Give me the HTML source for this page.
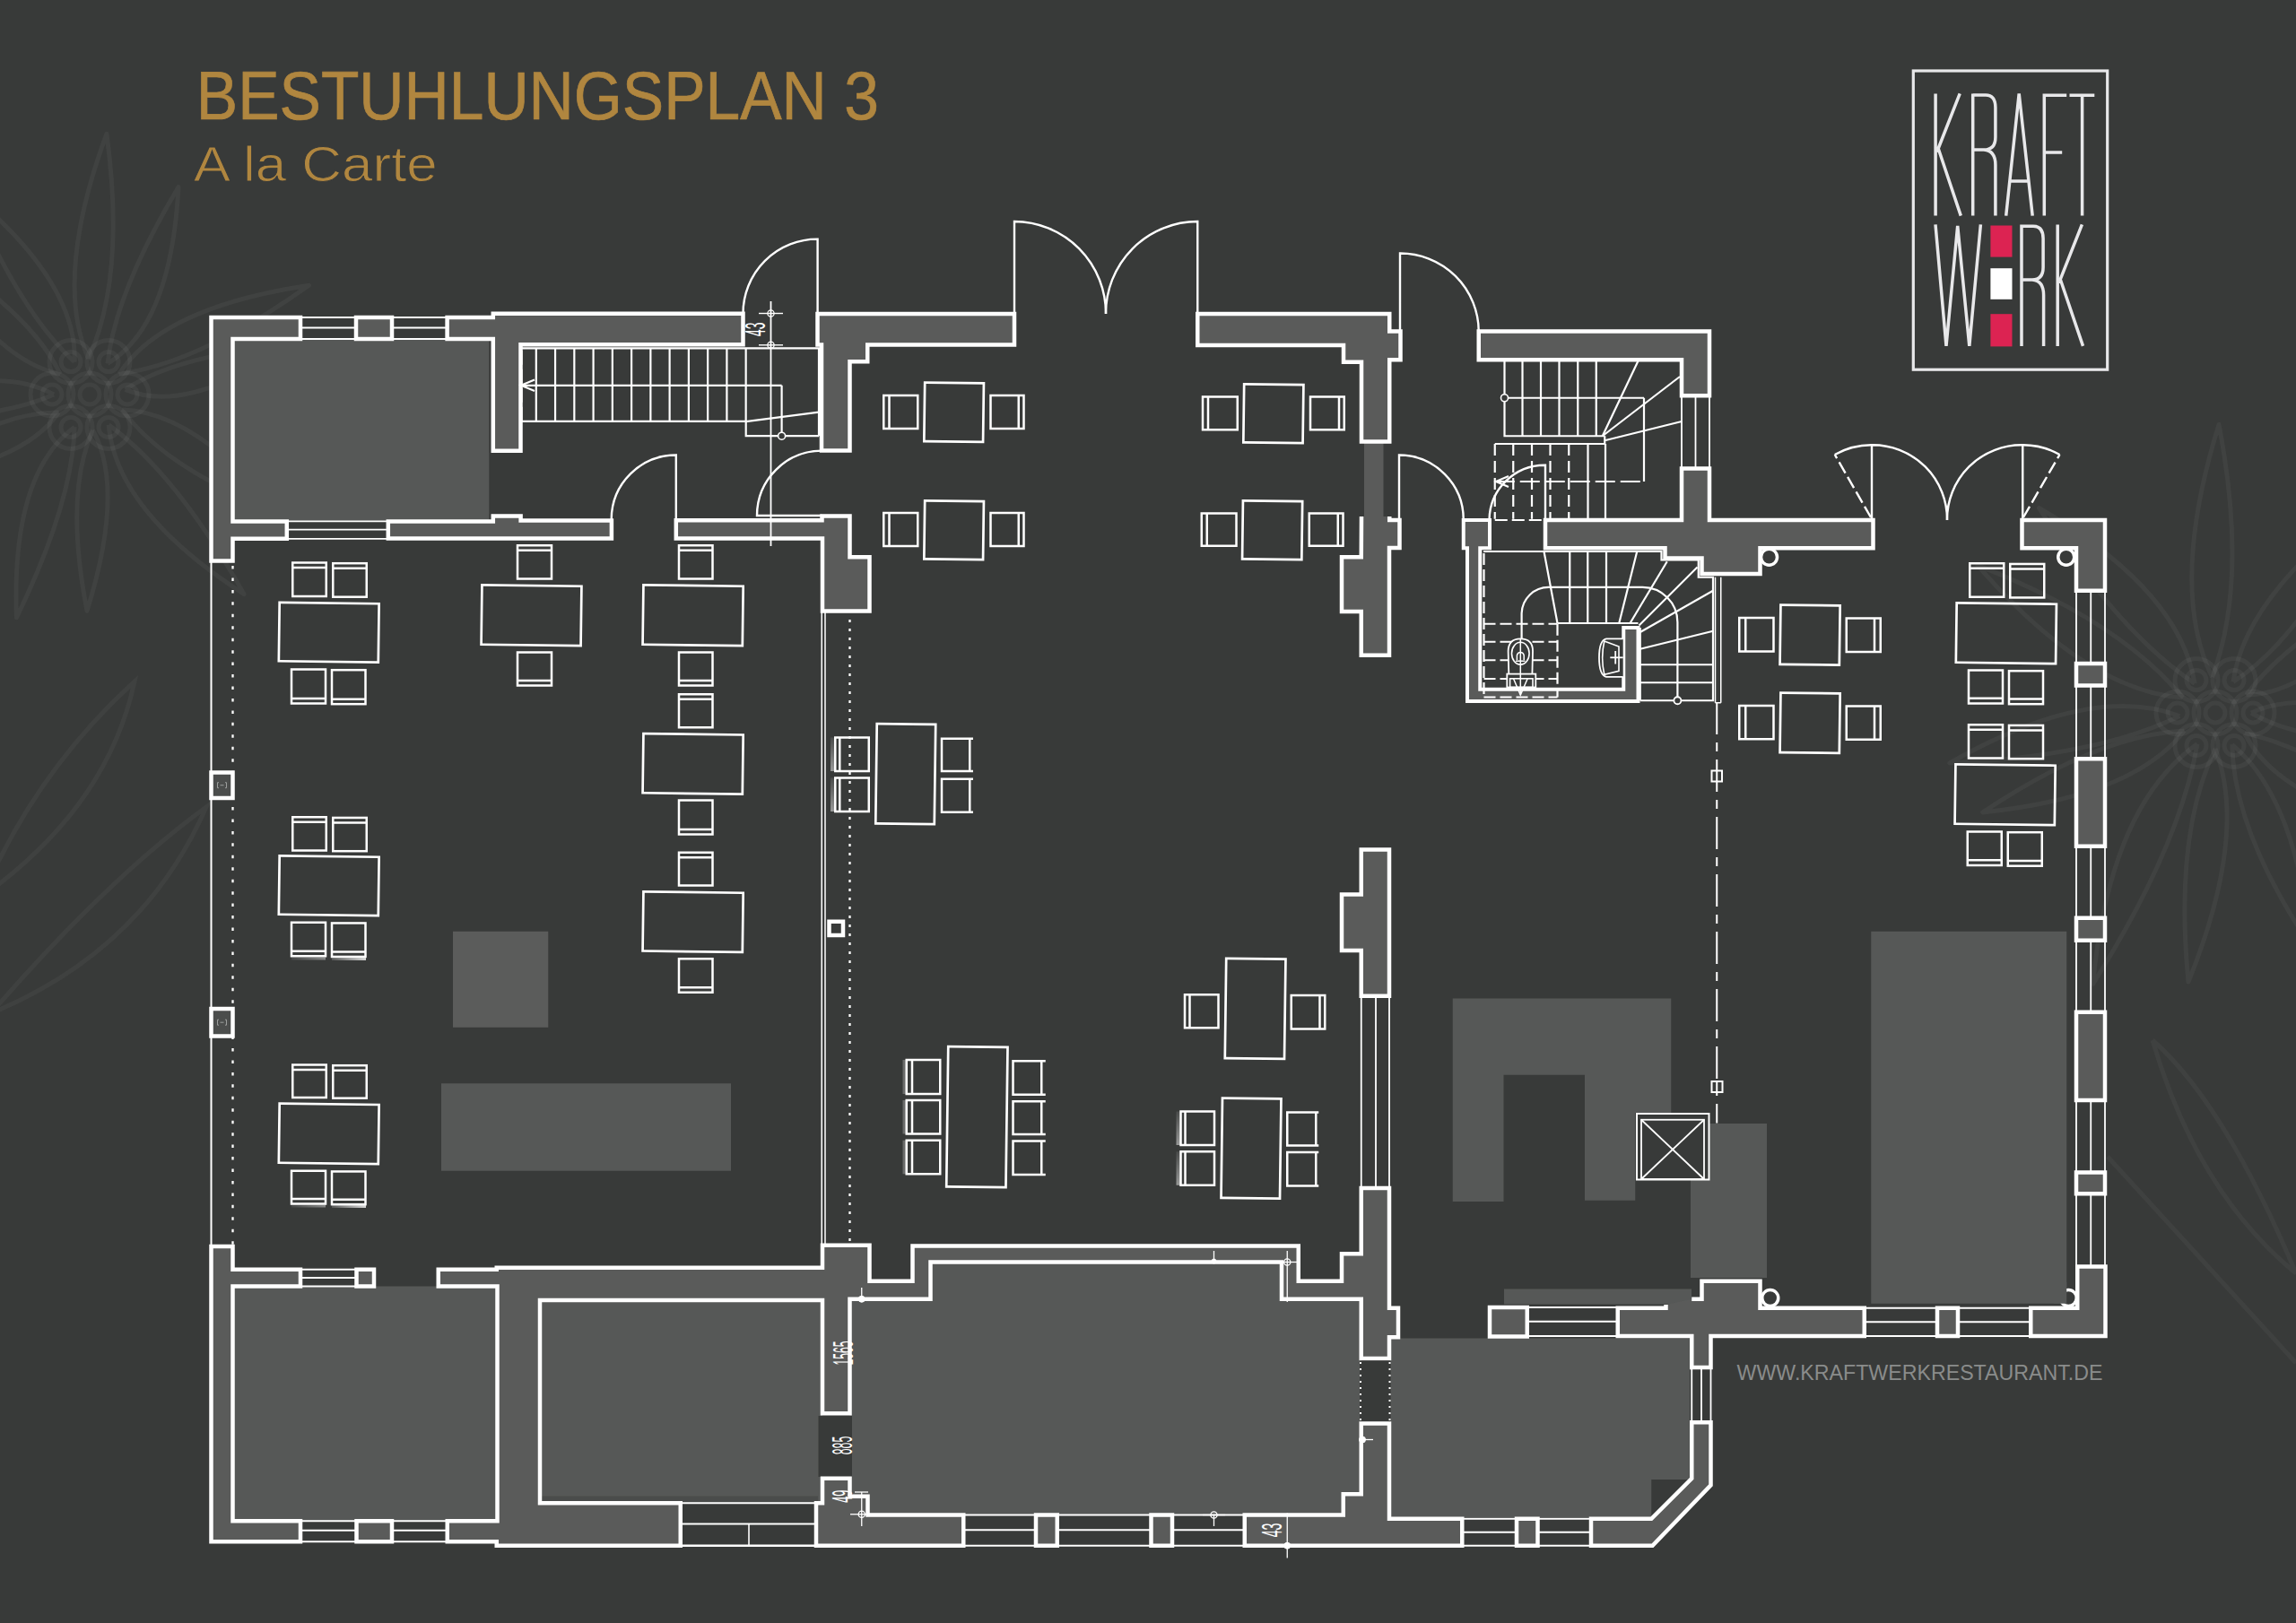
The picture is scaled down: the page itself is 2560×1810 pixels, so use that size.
<!DOCTYPE html>
<html><head><meta charset="utf-8"><title>Bestuhlungsplan 3</title>
<style>html,body{margin:0;padding:0;background:#383a39;}body{width:2560px;height:1810px;overflow:hidden;font-family:"Liberation Sans",sans-serif;}svg{display:block}text{font-family:"Liberation Sans",sans-serif;}</style>
</head><body>
<svg width="2560" height="1810" viewBox="0 0 2560 1810">
<rect x="0" y="0" width="2560" height="1810" fill="#383a39"/>
<g fill="none" stroke="#ffffff" stroke-opacity="0.045" stroke-width="5" stroke-linejoin="round"><path d="M98.6,400.0 Q140.4,308.0 118.9,149.2 Q59.5,310.8 98.6,400.0 M120.0,405.4 Q190.9,362.6 199.0,208.5 Q128.5,326.6 120.0,405.4 M132.8,417.1 Q223.6,404.7 344.4,318.3 Q180.3,342.8 132.8,417.1 M139.6,434.4 Q207.8,463.2 324.6,385.2 Q198.3,395.5 139.6,434.4 M136.3,456.9 Q185.1,523.8 313.9,572.8 Q215.5,458.5 136.3,456.9 M121.2,473.9 Q129.5,570.2 272.1,662.6 Q196.6,528.2 121.2,473.9 M103.5,479.8 Q71.6,550.9 97.0,681.2 Q139.7,544.9 103.5,479.8 M83.1,476.3 Q12.5,528.3 18.4,688.8 Q81.0,560.2 83.1,476.3 M65.4,460.0 Q-8.6,458.8 -110.7,535.1 Q25.6,518.1 65.4,460.0 M60.0,440.0 Q-12.5,400.0 -150.0,465.0 Q-12.5,472.0 60.0,440.0 M67.2,417.1 Q33.3,346.9 -80.1,278.8 Q-5.9,403.0 67.2,417.1 M83.1,403.7 Q86.8,317.1 -33.4,215.3 Q21.6,347.5 83.1,403.7"/><circle cx="142.0" cy="440.0" r="24.0"/><circle cx="142.0" cy="440.0" r="11.0"/><circle cx="121.0" cy="476.4" r="24.0"/><circle cx="121.0" cy="476.4" r="11.0"/><circle cx="79.0" cy="476.4" r="24.0"/><circle cx="79.0" cy="476.4" r="11.0"/><circle cx="58.0" cy="440.0" r="24.0"/><circle cx="58.0" cy="440.0" r="11.0"/><circle cx="79.0" cy="403.6" r="24.0"/><circle cx="79.0" cy="403.6" r="11.0"/><circle cx="121.0" cy="403.6" r="24.0"/><circle cx="121.0" cy="403.6" r="11.0"/><circle cx="100.0" cy="440.0" r="24.0"/><circle cx="100.0" cy="440.0" r="11.0"/></g><g fill="none" stroke="#ffffff" stroke-opacity="0.045" stroke-width="5" stroke-linejoin="round"><path d="M2466.5,755.2 Q2507.3,647.2 2474.0,473.4 Q2417.6,655.0 2466.5,755.2 M2447.1,762.2 Q2430.2,658.0 2273.4,566.5 Q2362.4,705.5 2447.1,762.2 M2433.7,778.1 Q2363.9,692.5 2204.8,630.3 Q2327.3,770.8 2433.7,778.1 M2430.2,798.5 Q2331.5,760.9 2173.8,851.0 Q2338.7,843.4 2430.2,798.5 M2435.4,815.0 Q2338.9,819.9 2210.7,905.9 Q2378.5,888.5 2435.4,815.0 M2450.0,829.6 Q2352.4,898.6 2333.6,1097.3 Q2430.4,943.6 2450.0,829.6 M2470.0,835.0 Q2424.0,930.0 2440.0,1095.0 Q2506.8,930.0 2470.0,835.0 M2490.0,760.4 Q2571.1,707.9 2634.2,566.5 Q2502.5,668.3 2490.0,760.4 M2504.6,775.0 Q2587.4,773.4 2674.0,648.3 Q2551.4,711.0 2504.6,775.0 M2510.0,795.0 Q2578.0,835.0 2710.0,819.0 Q2578.0,763.0 2510.0,795.0 M2502.8,817.9 Q2541.8,896.5 2697.9,922.8 Q2585.1,834.6 2502.8,817.9 M2488.8,830.3 Q2490.3,926.9 2576.7,1055.4 Q2560.2,889.7 2488.8,830.3"/><circle cx="2512.0" cy="795.0" r="24.0"/><circle cx="2512.0" cy="795.0" r="11.0"/><circle cx="2491.0" cy="831.4" r="24.0"/><circle cx="2491.0" cy="831.4" r="11.0"/><circle cx="2449.0" cy="831.4" r="24.0"/><circle cx="2449.0" cy="831.4" r="11.0"/><circle cx="2428.0" cy="795.0" r="24.0"/><circle cx="2428.0" cy="795.0" r="11.0"/><circle cx="2449.0" cy="758.6" r="24.0"/><circle cx="2449.0" cy="758.6" r="11.0"/><circle cx="2491.0" cy="758.6" r="24.0"/><circle cx="2491.0" cy="758.6" r="11.0"/><circle cx="2470.0" cy="795.0" r="24.0"/><circle cx="2470.0" cy="795.0" r="11.0"/></g><g fill="none" stroke="#ffffff" stroke-opacity="0.04" stroke-width="5"><path d="M-20,1000 Q40,860 150,760 Q120,900 -20,1000 M-10,1130 Q120,980 230,900 Q160,1060 -10,1130"/><path d="M2400,1160 Q2480,1230 2560,1420 Q2450,1330 2400,1160 M2350,1290 Q2450,1400 2560,1520"/></g>
<rect x="259.50" y="378.00" width="285.80" height="203.00" fill="#565857"/>
<rect x="505.00" y="1038.75" width="106.25" height="107.00" fill="#5b5c5b"/>
<rect x="492.00" y="1208.25" width="323.00" height="97.50" fill="#565857"/>
<rect x="259.50" y="1434.50" width="295.00" height="261.75" fill="#565857"/>
<rect x="602.00" y="1450.00" width="315.00" height="226.25" fill="#565857"/>
<rect x="602.00" y="1668.50" width="310.00" height="7.75" fill="#4a4c4b"/>
<polygon points="947.50,1448.75 1037.50,1448.75 1037.50,1407.50 1429.00,1407.50 1429.00,1448.75 1517.75,1448.75 1517.75,1666.25 1497.75,1666.25 1497.75,1689.50 967.50,1689.50 967.50,1668.75 947.50,1668.75" fill="#565857"/>
<polygon points="1550.25,1492.50 1884.00,1492.50 1884.00,1650.00 1841.25,1650.00 1841.25,1692.00 1550.25,1692.00" fill="#565857"/>
<polygon points="1619.75,1113.50 1863.25,1113.50 1863.25,1241.00 1823.25,1241.00 1823.25,1338.75 1767.00,1338.75 1767.00,1198.75 1676.50,1198.75 1676.50,1340.00 1619.75,1340.00" fill="#565857"/>
<rect x="1885.00" y="1253.00" width="85.00" height="172.00" fill="#565857"/>
<rect x="2086.25" y="1038.75" width="218.00" height="415.00" fill="#565857"/>
<rect x="1677.00" y="1437.50" width="209.00" height="17.00" fill="#565857"/>
<rect x="1521.00" y="492.50" width="21.50" height="85.50" fill="#5a5b5a"/>
<line x1="335.00" y1="354.00" x2="397.00" y2="354.00" stroke="#ffffff" stroke-width="1.8" />
<line x1="335.00" y1="365.50" x2="397.00" y2="365.50" stroke="#ffffff" stroke-width="1.8" />
<line x1="335.00" y1="378.00" x2="397.00" y2="378.00" stroke="#ffffff" stroke-width="1.8" />
<line x1="437.00" y1="354.00" x2="498.60" y2="354.00" stroke="#ffffff" stroke-width="1.8" />
<line x1="437.00" y1="365.50" x2="498.60" y2="365.50" stroke="#ffffff" stroke-width="1.8" />
<line x1="437.00" y1="378.00" x2="498.60" y2="378.00" stroke="#ffffff" stroke-width="1.8" />
<line x1="319.80" y1="581.40" x2="432.80" y2="581.40" stroke="#ffffff" stroke-width="1.8" />
<line x1="319.80" y1="590.60" x2="432.80" y2="590.60" stroke="#ffffff" stroke-width="1.8" />
<line x1="319.80" y1="600.80" x2="432.80" y2="600.80" stroke="#ffffff" stroke-width="1.8" />
<line x1="335.00" y1="1415.75" x2="397.50" y2="1415.75" stroke="#ffffff" stroke-width="1.8" />
<line x1="335.00" y1="1425.00" x2="397.50" y2="1425.00" stroke="#ffffff" stroke-width="1.8" />
<line x1="335.00" y1="1434.50" x2="397.50" y2="1434.50" stroke="#ffffff" stroke-width="1.8" />
<line x1="335.00" y1="1696.25" x2="397.50" y2="1696.25" stroke="#ffffff" stroke-width="1.8" />
<line x1="335.00" y1="1706.75" x2="397.50" y2="1706.75" stroke="#ffffff" stroke-width="1.8" />
<line x1="335.00" y1="1719.25" x2="397.50" y2="1719.25" stroke="#ffffff" stroke-width="1.8" />
<line x1="437.00" y1="1696.25" x2="498.75" y2="1696.25" stroke="#ffffff" stroke-width="1.8" />
<line x1="437.00" y1="1706.75" x2="498.75" y2="1706.75" stroke="#ffffff" stroke-width="1.8" />
<line x1="437.00" y1="1719.25" x2="498.75" y2="1719.25" stroke="#ffffff" stroke-width="1.8" />
<line x1="760.00" y1="1676.25" x2="910.00" y2="1676.25" stroke="#ffffff" stroke-width="1.8" />
<line x1="760.00" y1="1699.50" x2="910.00" y2="1699.50" stroke="#ffffff" stroke-width="1.8" />
<line x1="760.00" y1="1723.75" x2="910.00" y2="1723.75" stroke="#ffffff" stroke-width="2.5" />
<line x1="835.00" y1="1699.50" x2="835.00" y2="1723.75" stroke="#ffffff" stroke-width="1.6" />
<line x1="1074.25" y1="1689.50" x2="1155.00" y2="1689.50" stroke="#ffffff" stroke-width="1.8" />
<line x1="1074.25" y1="1706.25" x2="1155.00" y2="1706.25" stroke="#ffffff" stroke-width="1.8" />
<line x1="1074.25" y1="1723.75" x2="1155.00" y2="1723.75" stroke="#ffffff" stroke-width="1.8" />
<line x1="1178.75" y1="1689.50" x2="1283.50" y2="1689.50" stroke="#ffffff" stroke-width="1.8" />
<line x1="1178.75" y1="1706.25" x2="1283.50" y2="1706.25" stroke="#ffffff" stroke-width="1.8" />
<line x1="1178.75" y1="1723.75" x2="1283.50" y2="1723.75" stroke="#ffffff" stroke-width="1.8" />
<line x1="1307.00" y1="1689.50" x2="1387.75" y2="1689.50" stroke="#ffffff" stroke-width="1.8" />
<line x1="1307.00" y1="1706.25" x2="1387.75" y2="1706.25" stroke="#ffffff" stroke-width="1.8" />
<line x1="1307.00" y1="1723.75" x2="1387.75" y2="1723.75" stroke="#ffffff" stroke-width="1.8" />
<line x1="1630.25" y1="1693.75" x2="1691.00" y2="1693.75" stroke="#ffffff" stroke-width="1.8" />
<line x1="1630.25" y1="1708.75" x2="1691.00" y2="1708.75" stroke="#ffffff" stroke-width="1.8" />
<line x1="1630.25" y1="1723.75" x2="1691.00" y2="1723.75" stroke="#ffffff" stroke-width="1.8" />
<line x1="1714.50" y1="1693.75" x2="1774.00" y2="1693.75" stroke="#ffffff" stroke-width="1.8" />
<line x1="1714.50" y1="1708.75" x2="1774.00" y2="1708.75" stroke="#ffffff" stroke-width="1.8" />
<line x1="1714.50" y1="1723.75" x2="1774.00" y2="1723.75" stroke="#ffffff" stroke-width="1.8" />
<line x1="1702.75" y1="1458.00" x2="1804.00" y2="1458.00" stroke="#ffffff" stroke-width="1.8" />
<line x1="1702.75" y1="1473.75" x2="1804.00" y2="1473.75" stroke="#ffffff" stroke-width="1.8" />
<line x1="1702.75" y1="1490.00" x2="1804.00" y2="1490.00" stroke="#ffffff" stroke-width="1.8" />
<line x1="2078.75" y1="1458.75" x2="2160.00" y2="1458.75" stroke="#ffffff" stroke-width="1.8" />
<line x1="2078.75" y1="1474.25" x2="2160.00" y2="1474.25" stroke="#ffffff" stroke-width="1.8" />
<line x1="2078.75" y1="1490.00" x2="2160.00" y2="1490.00" stroke="#ffffff" stroke-width="1.8" />
<line x1="2183.00" y1="1458.75" x2="2264.25" y2="1458.75" stroke="#ffffff" stroke-width="1.8" />
<line x1="2183.00" y1="1474.25" x2="2264.25" y2="1474.25" stroke="#ffffff" stroke-width="1.8" />
<line x1="2183.00" y1="1490.00" x2="2264.25" y2="1490.00" stroke="#ffffff" stroke-width="1.8" />
<line x1="1886.25" y1="1526.25" x2="1886.25" y2="1586.25" stroke="#ffffff" stroke-width="1.8" />
<line x1="1897.00" y1="1526.25" x2="1897.00" y2="1586.25" stroke="#ffffff" stroke-width="1.8" />
<line x1="1907.50" y1="1526.25" x2="1907.50" y2="1586.25" stroke="#ffffff" stroke-width="1.8" />
<line x1="2315.00" y1="658.75" x2="2315.00" y2="1412.50" stroke="#ffffff" stroke-width="1.8" />
<line x1="2331.25" y1="658.75" x2="2331.25" y2="1412.50" stroke="#ffffff" stroke-width="1.8" />
<line x1="2347.00" y1="658.75" x2="2347.00" y2="1412.50" stroke="#ffffff" stroke-width="1.8" />
<line x1="1517.75" y1="1110.75" x2="1517.75" y2="1325.00" stroke="#ffffff" stroke-width="1.8" />
<line x1="1534.00" y1="1110.75" x2="1534.00" y2="1325.00" stroke="#ffffff" stroke-width="1.8" />
<line x1="1549.00" y1="1110.75" x2="1549.00" y2="1325.00" stroke="#ffffff" stroke-width="1.8" />
<line x1="1875.00" y1="441.25" x2="1875.00" y2="522.50" stroke="#ffffff" stroke-width="1.8" />
<line x1="1890.50" y1="441.25" x2="1890.50" y2="522.50" stroke="#ffffff" stroke-width="1.8" />
<line x1="1906.00" y1="441.25" x2="1906.00" y2="522.50" stroke="#ffffff" stroke-width="1.8" />
<polygon points="235.50,354.00 335.00,354.00 335.00,378.00 259.50,378.00 259.50,581.40 319.80,581.40 319.80,600.80 259.50,600.80 259.50,625.50 235.50,625.50" fill="#5a5b5a" stroke="#ffffff" stroke-width="4.5" stroke-linejoin="miter"/>
<rect x="397.00" y="354.00" width="40.00" height="24.00" fill="#5a5b5a" stroke="#ffffff" stroke-width="4.5"/>
<polygon points="498.60,354.00 549.80,354.00 549.80,349.80 828.50,349.80 828.50,384.30 580.50,384.30 580.50,502.70 549.80,502.70 549.80,378.00 498.60,378.00" fill="#5a5b5a" stroke="#ffffff" stroke-width="4.5" stroke-linejoin="miter"/>
<polygon points="432.80,581.40 549.80,581.40 549.80,575.50 580.60,575.50 580.60,580.50 681.90,580.50 681.90,600.60 432.80,600.60" fill="#5a5b5a" stroke="#ffffff" stroke-width="4.5" stroke-linejoin="miter"/>
<polygon points="753.80,580.20 916.50,580.20 916.50,575.50 947.50,575.50 947.50,621.25 969.50,621.25 969.50,681.50 917.00,681.50 917.00,600.50 753.80,600.50" fill="#5a5b5a" stroke="#ffffff" stroke-width="4.5" stroke-linejoin="miter"/>
<polygon points="911.50,350.00 1131.00,350.00 1131.00,384.50 967.25,384.50 967.25,403.25 947.50,403.25 947.50,502.60 916.00,502.60 916.00,384.50 911.50,384.50" fill="#5a5b5a" stroke="#ffffff" stroke-width="4.5" stroke-linejoin="miter"/>
<polygon points="1335.25,350.00 1549.25,350.00 1549.25,369.50 1561.50,369.50 1561.50,401.25 1549.25,401.25 1549.25,492.50 1518.00,492.50 1518.00,403.75 1498.00,403.75 1498.00,385.00 1335.25,385.00" fill="#5a5b5a" stroke="#ffffff" stroke-width="4.5" stroke-linejoin="miter"/>
<polyline points="1518.00,576.00 1517.75,621.25 1496.00,621.25 1496.00,682.00 1517.75,682.00 1517.75,730.75 1549.00,730.75 1549.00,611.00 1560.50,611.00 1560.50,580.00 1549.25,580.00 1549.25,576.00" fill="#5a5b5a" stroke="#ffffff" stroke-width="4.5" stroke-linejoin="miter"/>
<polygon points="1517.75,947.50 1549.00,947.50 1549.00,1110.75 1517.75,1110.75 1517.75,1060.00 1496.00,1060.00 1496.00,997.50 1517.75,997.50" fill="#5a5b5a" stroke="#ffffff" stroke-width="4.5" stroke-linejoin="miter"/>
<polygon points="1648.75,369.50 1906.00,369.50 1906.00,441.25 1875.00,441.25 1875.00,401.25 1648.75,401.25" fill="#5a5b5a" stroke="#ffffff" stroke-width="4.5" stroke-linejoin="miter"/>
<polygon points="1723.00,580.00 1875.00,580.00 1875.00,522.50 1906.00,522.50 1906.00,580.00 2088.50,580.00 2088.50,611.25 1962.50,611.25 1962.50,640.00 1897.50,640.00 1897.50,622.50 1856.50,622.50 1856.50,611.25 1723.00,611.25" fill="#5a5b5a" stroke="#ffffff" stroke-width="4.5" stroke-linejoin="miter"/>
<polygon points="1631.75,580.00 1661.00,580.00 1661.00,611.25 1650.25,611.25 1650.25,768.75 1810.25,768.75 1810.25,700.00 1826.50,700.00 1826.50,782.00 1636.00,782.00 1636.00,611.25 1631.75,611.25" fill="#5a5b5a" stroke="#ffffff" stroke-width="4" stroke-linejoin="miter"/>
<polygon points="2254.50,580.00 2347.00,580.00 2347.00,658.75 2315.00,658.75 2315.00,611.25 2254.50,611.25" fill="#5a5b5a" stroke="#ffffff" stroke-width="4.5" stroke-linejoin="miter"/>
<rect x="2315.00" y="740.00" width="32.00" height="24.50" fill="#5a5b5a" stroke="#ffffff" stroke-width="4.5"/>
<rect x="2315.00" y="846.25" width="32.00" height="97.50" fill="#5a5b5a" stroke="#ffffff" stroke-width="4.5"/>
<rect x="2315.00" y="1023.75" width="32.00" height="25.00" fill="#5a5b5a" stroke="#ffffff" stroke-width="4.5"/>
<rect x="2315.00" y="1128.75" width="32.00" height="98.25" fill="#5a5b5a" stroke="#ffffff" stroke-width="4.5"/>
<rect x="2315.00" y="1307.50" width="32.00" height="23.75" fill="#5a5b5a" stroke="#ffffff" stroke-width="4.5"/>
<rect x="235.50" y="861.50" width="24.00" height="28.50" fill="#4b4d4c" stroke="#ffffff" stroke-width="4.5"/>
<rect x="235.50" y="1125.00" width="24.00" height="30.50" fill="#4b4d4c" stroke="#ffffff" stroke-width="4.5"/>
<rect x="924.50" y="1027.75" width="15.50" height="15.25" fill="#383a39" stroke="#ffffff" stroke-width="4.5"/>
<path d="M244,872.7 h-1.5 v6 h1.5 M251,872.7 h1.5 v6 h-1.5 M245.5,875.7 h4" fill="none" stroke="#9c9e9d" stroke-width="1"/>
<path d="M244,1137.2 h-1.5 v6 h1.5 M251,1137.2 h1.5 v6 h-1.5 M245.5,1140.2 h4" fill="none" stroke="#9c9e9d" stroke-width="1"/>
<polygon points="235.50,1390.00 259.50,1390.00 259.50,1415.75 335.00,1415.75 335.00,1434.50 259.50,1434.50 259.50,1696.25 335.00,1696.25 335.00,1719.25 235.50,1719.25" fill="#5a5b5a" stroke="#ffffff" stroke-width="4.5" stroke-linejoin="miter"/>
<rect x="397.50" y="1415.75" width="19.50" height="18.75" fill="#5a5b5a" stroke="#ffffff" stroke-width="4.5"/>
<rect x="397.50" y="1696.25" width="39.50" height="23.00" fill="#5a5b5a" stroke="#ffffff" stroke-width="4.5"/>
<polygon points="488.75,1415.75 553.75,1415.75 553.75,1413.75 917.00,1413.75 917.00,1388.75 969.50,1388.75 969.50,1428.75 1017.50,1428.75 1017.50,1389.50 1447.75,1389.50 1447.75,1428.75 1496.00,1428.75 1496.00,1398.25 1517.75,1398.25 1517.75,1325.00 1549.00,1325.00 1549.00,1458.75 1559.00,1458.75 1559.00,1491.25 1549.00,1491.25 1549.00,1515.00 1517.75,1515.00 1517.75,1448.75 1429.00,1448.75 1429.00,1407.50 1037.50,1407.50 1037.50,1448.75 947.50,1448.75 947.50,1576.25 917.00,1576.25 917.00,1450.00 602.00,1450.00 602.00,1676.25 758.75,1676.25 758.75,1723.75 553.75,1723.75 553.75,1719.25 498.75,1719.25 498.75,1696.25 554.50,1696.25 554.50,1434.50 488.75,1434.50" fill="#5a5b5a" stroke="#ffffff" stroke-width="4.5" stroke-linejoin="miter"/>
<rect x="912.50" y="1579.00" width="37.50" height="68.00" fill="#383a39"/>
<rect x="1516.00" y="1517.50" width="34.50" height="67.50" fill="#383a39"/>
<polygon points="917.00,1648.75 947.50,1648.75 947.50,1668.75 967.50,1668.75 967.50,1689.50 1074.25,1689.50 1074.25,1723.75 910.00,1723.75 910.00,1676.25 917.00,1676.25" fill="#5a5b5a" stroke="#ffffff" stroke-width="4.5" stroke-linejoin="miter"/>
<rect x="1155.00" y="1689.50" width="23.75" height="34.25" fill="#5a5b5a" stroke="#ffffff" stroke-width="4.5"/>
<rect x="1283.50" y="1689.50" width="23.50" height="34.25" fill="#5a5b5a" stroke="#ffffff" stroke-width="4.5"/>
<polygon points="1517.75,1587.50 1549.00,1587.50 1549.00,1693.75 1630.25,1693.75 1630.25,1723.75 1387.75,1723.75 1387.75,1689.50 1497.75,1689.50 1497.75,1666.25 1517.75,1666.25" fill="#5a5b5a" stroke="#ffffff" stroke-width="4.5" stroke-linejoin="miter"/>
<rect x="1691.00" y="1693.75" width="23.50" height="30.00" fill="#5a5b5a" stroke="#ffffff" stroke-width="4.5"/>
<polygon points="1774.00,1693.75 1841.25,1693.75 1886.25,1648.75 1886.25,1586.25 1907.50,1586.25 1907.50,1656.25 1842.50,1723.75 1774.00,1723.75" fill="#5a5b5a" stroke="#ffffff" stroke-width="4.5" stroke-linejoin="miter"/>
<rect x="1661.00" y="1458.00" width="41.75" height="32.50" fill="#5a5b5a" stroke="#ffffff" stroke-width="4.5"/>
<polyline points="1857.50,1455.00 1857.50,1458.75 1803.75,1458.75 1803.75,1490.00 1886.25,1490.00 1886.25,1525.00 1907.50,1525.00 1907.50,1490.00 2078.75,1490.00 2078.75,1458.75 1962.50,1458.75 1962.50,1428.75 1897.50,1428.75 1897.50,1448.75 1886.25,1448.75" fill="#5a5b5a" stroke="#ffffff" stroke-width="4.5" stroke-linejoin="miter"/>
<rect x="2160.00" y="1458.75" width="23.00" height="31.25" fill="#5a5b5a" stroke="#ffffff" stroke-width="4.5"/>
<polygon points="2264.25,1458.75 2316.25,1458.75 2316.25,1412.50 2347.50,1412.50 2347.50,1490.00 2264.25,1490.00" fill="#5a5b5a" stroke="#ffffff" stroke-width="4.5" stroke-linejoin="miter"/>
<circle cx="1972.50" cy="621.25" r="9" fill="#383a39" stroke="#ffffff" stroke-width="3.5"/>
<circle cx="2303.75" cy="621.25" r="9" fill="#383a39" stroke="#ffffff" stroke-width="3.5"/>
<circle cx="1973.75" cy="1447.50" r="9" fill="#383a39" stroke="#ffffff" stroke-width="3.5"/>
<circle cx="2306.25" cy="1447.50" r="9" fill="#383a39" stroke="#ffffff" stroke-width="3.5"/>
<rect x="2290.00" y="1430.00" width="14.25" height="23.75" fill="#565857"/>
<line x1="235.50" y1="625.00" x2="235.50" y2="1390.00" stroke="#ffffff" stroke-width="2" />
<line x1="259.50" y1="631.00" x2="259.50" y2="1388.00" stroke="#ffffff" stroke-width="2.3" stroke-dasharray="3.5 9.95"/>
<line x1="916.25" y1="681.50" x2="916.25" y2="1388.00" stroke="#ffffff" stroke-width="1.5" />
<line x1="920.00" y1="681.50" x2="920.00" y2="1388.00" stroke="#ffffff" stroke-width="1.5" />
<line x1="947.50" y1="691.00" x2="947.50" y2="1388.00" stroke="#ffffff" stroke-width="2.3" stroke-dasharray="3 7"/>
<line x1="1517.00" y1="1519.00" x2="1517.00" y2="1585.00" stroke="#ffffff" stroke-width="2" stroke-dasharray="2 5"/>
<line x1="1549.50" y1="1519.00" x2="1549.50" y2="1585.00" stroke="#ffffff" stroke-width="2" stroke-dasharray="2 5"/>
<line x1="1914.25" y1="783.00" x2="1914.25" y2="1252.50" stroke="#ffffff" stroke-width="2" stroke-dasharray="36 9 10 9"/>
<rect x="1908.50" y="859.50" width="11.50" height="12.00" fill="#383a39" stroke="#ffffff" stroke-width="2"/>
<rect x="1908.50" y="1206.00" width="12.00" height="12.00" fill="#383a39" stroke="#ffffff" stroke-width="2"/>
<line x1="1914.25" y1="859.50" x2="1914.25" y2="871.50" stroke="#ffffff" stroke-width="2" />
<line x1="1914.25" y1="1206.00" x2="1914.25" y2="1218.00" stroke="#ffffff" stroke-width="2" />
<line x1="1912.50" y1="643.75" x2="1912.50" y2="783.75" stroke="#ffffff" stroke-width="1.5" />
<line x1="1918.75" y1="643.75" x2="1918.75" y2="783.75" stroke="#ffffff" stroke-width="1.5" />
<line x1="1912.50" y1="783.75" x2="1918.75" y2="783.75" stroke="#ffffff" stroke-width="1.5" />
<path d="M911.6,349.5 L911.6,266.6 A83 83 0 0 0 828.5,349.5" fill="none" stroke="#ffffff" stroke-width="2.4" />
<path d="M753.8,579 L753.8,507.5 A72 72 0 0 0 681.7,579" fill="none" stroke="#ffffff" stroke-width="2.4" />
<path d="M916.5,575 L844,575 A72.5 72.5 0 0 1 916.5,502.6" fill="none" stroke="#ffffff" stroke-width="2.4" />
<path d="M1131,350 L1131,247 A102.5 102.5 0 0 1 1233,350" fill="none" stroke="#ffffff" stroke-width="2.4" />
<path d="M1335.25,350 L1335.25,247 A102.5 102.5 0 0 0 1233,350" fill="none" stroke="#ffffff" stroke-width="2.4" />
<path d="M1561,369.5 L1561,282.5 A87.5 87.5 0 0 1 1648.75,369.5" fill="none" stroke="#ffffff" stroke-width="2.4" />
<path d="M1560,580 L1560,507.5 A72 72 0 0 1 1631.75,580" fill="none" stroke="#ffffff" stroke-width="2.4" />
<path d="M1723,580 L1723,518.75 A62 62 0 0 0 1660.5,580" fill="none" stroke="#ffffff" stroke-width="2.4" />
<path d="M2087,578.75 L2087,496.25 A83 83 0 0 1 2171,580" fill="none" stroke="#ffffff" stroke-width="2.4" />
<path d="M2087,496.25 A83 83 0 0 0 2045.75,507" fill="none" stroke="#ffffff" stroke-width="2.4" />
<line x1="2086.00" y1="577.00" x2="2045.75" y2="507.00" stroke="#ffffff" stroke-width="2.4" stroke-dasharray="14 5"/>
<path d="M2255.25,578.75 L2255.25,496.25 A83 83 0 0 0 2171,580" fill="none" stroke="#ffffff" stroke-width="2.4" />
<path d="M2255.25,496.25 A83 83 0 0 1 2296.5,507" fill="none" stroke="#ffffff" stroke-width="2.4" />
<line x1="2256.00" y1="577.00" x2="2296.50" y2="507.00" stroke="#ffffff" stroke-width="2.4" stroke-dasharray="14 5"/>
<path d="M581.5,388.4 H913 V486.2 M831.7,469.8 H581.5" fill="none" stroke="#ffffff" stroke-width="2.2" />
<path d="M581.5,469.8 V388.4" fill="none" stroke="#ffffff" stroke-width="2.2" stroke-dasharray="16 5"/>
<line x1="579.00" y1="429.80" x2="871.60" y2="429.80" stroke="#ffffff" stroke-width="2.2" />
<line x1="871.60" y1="429.80" x2="871.60" y2="486.20" stroke="#ffffff" stroke-width="2.2" />
<line x1="597.80" y1="388.40" x2="597.80" y2="469.80" stroke="#ffffff" stroke-width="2.2" />
<line x1="619.06" y1="388.40" x2="619.06" y2="469.80" stroke="#ffffff" stroke-width="2.2" />
<line x1="640.32" y1="388.40" x2="640.32" y2="469.80" stroke="#ffffff" stroke-width="2.2" />
<line x1="661.58" y1="388.40" x2="661.58" y2="469.80" stroke="#ffffff" stroke-width="2.2" />
<line x1="682.84" y1="388.40" x2="682.84" y2="469.80" stroke="#ffffff" stroke-width="2.2" />
<line x1="704.10" y1="388.40" x2="704.10" y2="469.80" stroke="#ffffff" stroke-width="2.2" />
<line x1="725.36" y1="388.40" x2="725.36" y2="469.80" stroke="#ffffff" stroke-width="2.2" />
<line x1="746.62" y1="388.40" x2="746.62" y2="469.80" stroke="#ffffff" stroke-width="2.2" />
<line x1="767.88" y1="388.40" x2="767.88" y2="469.80" stroke="#ffffff" stroke-width="2.2" />
<line x1="789.14" y1="388.40" x2="789.14" y2="469.80" stroke="#ffffff" stroke-width="2.2" />
<line x1="810.40" y1="388.40" x2="810.40" y2="469.80" stroke="#ffffff" stroke-width="2.2" />
<line x1="831.66" y1="388.40" x2="831.66" y2="469.80" stroke="#ffffff" stroke-width="2.2" />
<path d="M831.7,470 V486.2 H913" fill="none" stroke="#ffffff" stroke-width="2.2" />
<line x1="831.70" y1="470.20" x2="913.00" y2="459.60" stroke="#ffffff" stroke-width="2.2" />
<circle cx="871.60" cy="486.20" r="4" fill="#383a39" stroke="#ffffff" stroke-width="1.6"/>
<path d="M596,423.5 L581,429.8 L596,436" fill="none" stroke="#ffffff" stroke-width="2.2" />
<line x1="859.50" y1="336.00" x2="859.50" y2="609.00" stroke="#ffffff" stroke-width="1.8" />
<line x1="846.00" y1="349.50" x2="873.00" y2="349.50" stroke="#ffffff" stroke-width="1.4" />
<circle cx="859.50" cy="349.50" r="3.6" fill="none" stroke="#ffffff" stroke-width="1.3"/>
<line x1="846.00" y1="384.80" x2="873.00" y2="384.80" stroke="#ffffff" stroke-width="1.4" />
<circle cx="859.50" cy="384.80" r="3.6" fill="none" stroke="#ffffff" stroke-width="1.3"/>
<text transform="translate(852.5,367.3) rotate(-90)" font-size="32" fill="#ffffff" text-anchor="middle" textLength="15.5" lengthAdjust="spacingAndGlyphs">43</text>
<path d="M1677.5,401.25 V486.25 H1789.25" fill="none" stroke="#ffffff" stroke-width="2.2" />
<line x1="1697.50" y1="401.25" x2="1697.50" y2="486.25" stroke="#ffffff" stroke-width="2.2" />
<line x1="1718.00" y1="401.25" x2="1718.00" y2="486.25" stroke="#ffffff" stroke-width="2.2" />
<line x1="1738.50" y1="401.25" x2="1738.50" y2="486.25" stroke="#ffffff" stroke-width="2.2" />
<line x1="1759.25" y1="401.25" x2="1759.25" y2="486.25" stroke="#ffffff" stroke-width="2.2" />
<line x1="1779.75" y1="401.25" x2="1779.75" y2="486.25" stroke="#ffffff" stroke-width="2.2" />
<line x1="1681.75" y1="443.75" x2="1833.00" y2="443.75" stroke="#ffffff" stroke-width="2.2" />
<line x1="1833.00" y1="443.75" x2="1833.00" y2="537.00" stroke="#ffffff" stroke-width="2.2" />
<circle cx="1677.50" cy="443.75" r="4" fill="#383a39" stroke="#ffffff" stroke-width="1.6"/>
<line x1="1786.75" y1="486.25" x2="1826.75" y2="402.00" stroke="#ffffff" stroke-width="2.2" />
<line x1="1786.75" y1="486.25" x2="1873.00" y2="420.00" stroke="#ffffff" stroke-width="2.2" />
<line x1="1789.25" y1="491.25" x2="1875.00" y2="470.00" stroke="#ffffff" stroke-width="2.2" />
<line x1="1789.25" y1="486.25" x2="1789.25" y2="495.00" stroke="#ffffff" stroke-width="2.2" />
<line x1="1666.75" y1="495.00" x2="1789.25" y2="495.00" stroke="#ffffff" stroke-width="2.2" />
<line x1="1666.75" y1="495.00" x2="1666.75" y2="578.75" stroke="#ffffff" stroke-width="2.2" stroke-dasharray="13 6"/>
<line x1="1687.25" y1="495.00" x2="1687.25" y2="578.75" stroke="#ffffff" stroke-width="2.2" stroke-dasharray="13 6"/>
<line x1="1708.00" y1="495.00" x2="1708.00" y2="578.75" stroke="#ffffff" stroke-width="2.2" stroke-dasharray="13 6"/>
<line x1="1728.50" y1="495.00" x2="1728.50" y2="578.75" stroke="#ffffff" stroke-width="2.2" stroke-dasharray="13 6"/>
<line x1="1749.25" y1="495.00" x2="1749.25" y2="578.75" stroke="#ffffff" stroke-width="2.2" stroke-dasharray="13 6"/>
<line x1="1770.50" y1="495.00" x2="1770.50" y2="578.75" stroke="#ffffff" stroke-width="2.2" />
<line x1="1790.00" y1="495.00" x2="1790.00" y2="578.75" stroke="#ffffff" stroke-width="2.2" />
<line x1="1666.75" y1="537.00" x2="1833.00" y2="537.00" stroke="#ffffff" stroke-width="2.2" stroke-dasharray="22 6"/>
<line x1="1666.75" y1="580.00" x2="1723.00" y2="580.00" stroke="#ffffff" stroke-width="2.2" stroke-dasharray="14 5"/>
<path d="M1682,531 L1668,537 L1682,543" fill="none" stroke="#ffffff" stroke-width="2.2" />
<path d="M1654,615 H1852.5 V624.5 H1893.75 V643.75 H1910 V781.25 H1828.75" fill="none" stroke="#ffffff" stroke-width="2.2" />
<path d="M1696.6,712 V684 A30 30 0 0 1 1727,654.9 H1831.2 A39 39 0 0 1 1870.4,694 V781.25" fill="none" stroke="#ffffff" stroke-width="2.2" />
<line x1="1736.50" y1="695.00" x2="1826.50" y2="695.00" stroke="#ffffff" stroke-width="2.2" />
<line x1="1721.50" y1="615.00" x2="1736.50" y2="695.00" stroke="#ffffff" stroke-width="2.2" />
<line x1="1750.25" y1="615.00" x2="1750.25" y2="695.00" stroke="#ffffff" stroke-width="2.2" />
<line x1="1770.25" y1="615.00" x2="1770.25" y2="695.00" stroke="#ffffff" stroke-width="2.2" />
<line x1="1791.00" y1="615.00" x2="1791.00" y2="695.00" stroke="#ffffff" stroke-width="2.2" />
<line x1="1825.25" y1="615.00" x2="1805.25" y2="695.00" stroke="#ffffff" stroke-width="2.2" />
<line x1="1858.75" y1="626.25" x2="1817.50" y2="695.00" stroke="#ffffff" stroke-width="2.2" />
<line x1="1892.50" y1="632.50" x2="1827.50" y2="697.50" stroke="#ffffff" stroke-width="2.2" />
<line x1="1910.00" y1="658.75" x2="1828.75" y2="705.00" stroke="#ffffff" stroke-width="2.2" />
<line x1="1910.00" y1="703.75" x2="1828.75" y2="723.75" stroke="#ffffff" stroke-width="2.2" />
<line x1="1828.75" y1="741.25" x2="1910.00" y2="741.25" stroke="#ffffff" stroke-width="2.2" />
<line x1="1828.75" y1="761.25" x2="1910.00" y2="761.25" stroke="#ffffff" stroke-width="2.2" />
<line x1="1828.75" y1="700.00" x2="1828.75" y2="781.25" stroke="#ffffff" stroke-width="2.2" />
<circle cx="1870.40" cy="781.25" r="4" fill="#383a39" stroke="#ffffff" stroke-width="1.8"/>
<line x1="1654.50" y1="695.75" x2="1736.50" y2="695.75" stroke="#ffffff" stroke-width="2.2" stroke-dasharray="13 5"/>
<line x1="1654.50" y1="715.75" x2="1736.50" y2="715.75" stroke="#ffffff" stroke-width="2.2" stroke-dasharray="13 5"/>
<line x1="1654.50" y1="736.25" x2="1736.50" y2="736.25" stroke="#ffffff" stroke-width="2.2" stroke-dasharray="13 5"/>
<line x1="1654.50" y1="757.00" x2="1736.50" y2="757.00" stroke="#ffffff" stroke-width="2.2" stroke-dasharray="13 5"/>
<line x1="1654.50" y1="777.50" x2="1736.50" y2="777.50" stroke="#ffffff" stroke-width="2.2" stroke-dasharray="13 5"/>
<line x1="1654.50" y1="617.00" x2="1654.50" y2="777.50" stroke="#ffffff" stroke-width="2.2" stroke-dasharray="13 5"/>
<line x1="1736.50" y1="695.75" x2="1736.50" y2="777.50" stroke="#ffffff" stroke-width="2.2" stroke-dasharray="13 5"/>
<path d="M1682.3,751.6 L1681.6,726 Q1682,712.4 1695.3,712.4 Q1709,712.4 1709,726 L1708.4,751.6" fill="#383a39" stroke="#ffffff" stroke-width="1.8" />
<ellipse cx="1695.3" cy="728.7" rx="9.8" ry="12.4" fill="none" stroke="#ffffff" stroke-width="1.6"/>
<path d="M1691.4,736 V731 A4 4.5 0 0 1 1699.2,731 V736" fill="none" stroke="#ffffff" stroke-width="1.5" />
<line x1="1690.00" y1="737.20" x2="1700.50" y2="737.20" stroke="#ffffff" stroke-width="1.5" />
<rect x="1680.30" y="751.60" width="32.00" height="14.90" fill="#383a39" stroke="#ffffff" stroke-width="1.8"/>
<rect x="1683.60" y="756.80" width="25.40" height="9.70" fill="none" stroke="#ffffff" stroke-width="1.6"/>
<line x1="1695.30" y1="712.00" x2="1695.30" y2="775.00" stroke="#ffffff" stroke-width="1.5" />
<path d="M1687.5,756.8 L1695.3,775.1 L1703.2,756.8" fill="none" stroke="#ffffff" stroke-width="1.5" />
<path d="M1809.7,712.4 H1791 Q1783,714 1783,733.5 Q1783,753 1791,754.8 H1809.7" fill="#383a39" stroke="#ffffff" stroke-width="1.8" />
<path d="M1788.8,715 L1805,721 V748.3 L1788.8,752.2 Q1784.5,733.5 1788.8,715 Z" fill="none" stroke="#ffffff" stroke-width="1.6" />
<line x1="1795.30" y1="733.30" x2="1809.70" y2="733.30" stroke="#ffffff" stroke-width="1.8" />
<line x1="1801.20" y1="726.00" x2="1801.20" y2="740.50" stroke="#ffffff" stroke-width="1.8" />
<rect x="1825.00" y="1242.00" width="80.50" height="73.50" fill="#383a39" stroke="#ffffff" stroke-width="2"/>
<rect x="1830.00" y="1248.75" width="70.00" height="66.25" fill="none" stroke="#ffffff" stroke-width="1.8"/>
<line x1="1830.00" y1="1248.75" x2="1900.00" y2="1315.00" stroke="#ffffff" stroke-width="1.8" />
<line x1="1900.00" y1="1248.75" x2="1830.00" y2="1315.00" stroke="#ffffff" stroke-width="1.8" />
<rect x="311.25" y="672.50" width="110.95" height="65.50" fill="none" stroke="#ffffff" stroke-width="2.7" transform="rotate(0.75 366.73 705.25)"/>
<rect x="326.25" y="627.50" width="37.50" height="37.50" fill="none" stroke="#ffffff" stroke-width="2.5"/>
<line x1="326.25" y1="633.00" x2="363.75" y2="633.00" stroke="#ffffff" stroke-width="2.5" />
<rect x="371.25" y="628.20" width="37.50" height="37.50" fill="none" stroke="#ffffff" stroke-width="2.5"/>
<line x1="371.25" y1="633.70" x2="408.75" y2="633.70" stroke="#ffffff" stroke-width="2.5" />
<rect x="325.00" y="746.50" width="38.00" height="38.00" fill="none" stroke="#ffffff" stroke-width="2.5"/>
<line x1="325.00" y1="779.00" x2="363.00" y2="779.00" stroke="#ffffff" stroke-width="2.5" />
<rect x="370.00" y="747.20" width="37.50" height="38.00" fill="none" stroke="#ffffff" stroke-width="2.5"/>
<line x1="370.00" y1="779.70" x2="407.50" y2="779.70" stroke="#ffffff" stroke-width="2.5" />
<rect x="311.25" y="955.00" width="110.95" height="65.50" fill="none" stroke="#ffffff" stroke-width="2.7" transform="rotate(0.75 366.73 987.75)"/>
<rect x="326.25" y="911.25" width="37.50" height="37.25" fill="none" stroke="#ffffff" stroke-width="2.5"/>
<line x1="326.25" y1="916.75" x2="363.75" y2="916.75" stroke="#ffffff" stroke-width="2.5" />
<rect x="371.25" y="911.95" width="37.50" height="37.25" fill="none" stroke="#ffffff" stroke-width="2.5"/>
<line x1="371.25" y1="917.45" x2="408.75" y2="917.45" stroke="#ffffff" stroke-width="2.5" />
<rect x="325.00" y="1028.75" width="38.00" height="37.50" fill="none" stroke="#ffffff" stroke-width="2.5"/>
<line x1="325.00" y1="1060.75" x2="363.00" y2="1060.75" stroke="#ffffff" stroke-width="2.5" />
<rect x="370.00" y="1029.45" width="37.50" height="37.50" fill="none" stroke="#ffffff" stroke-width="2.5"/>
<line x1="370.00" y1="1061.45" x2="407.50" y2="1061.45" stroke="#ffffff" stroke-width="2.5" />
<rect x="311.25" y="1231.25" width="110.95" height="66.25" fill="none" stroke="#ffffff" stroke-width="2.7" transform="rotate(0.75 366.73 1264.38)"/>
<rect x="326.25" y="1187.50" width="37.50" height="36.50" fill="none" stroke="#ffffff" stroke-width="2.5"/>
<line x1="326.25" y1="1193.00" x2="363.75" y2="1193.00" stroke="#ffffff" stroke-width="2.5" />
<rect x="371.25" y="1188.20" width="37.50" height="36.50" fill="none" stroke="#ffffff" stroke-width="2.5"/>
<line x1="371.25" y1="1193.70" x2="408.75" y2="1193.70" stroke="#ffffff" stroke-width="2.5" />
<rect x="325.00" y="1305.75" width="38.00" height="36.75" fill="none" stroke="#ffffff" stroke-width="2.5"/>
<line x1="325.00" y1="1337.00" x2="363.00" y2="1337.00" stroke="#ffffff" stroke-width="2.5" />
<rect x="370.00" y="1306.45" width="37.50" height="36.75" fill="none" stroke="#ffffff" stroke-width="2.5"/>
<line x1="370.00" y1="1337.70" x2="407.50" y2="1337.70" stroke="#ffffff" stroke-width="2.5" />
<defs><linearGradient id="sh" x1="0" x2="1" y1="0" y2="0"><stop offset="0" stop-color="#fff" stop-opacity="0.15"/><stop offset="1" stop-color="#fff" stop-opacity="0.8"/></linearGradient><linearGradient id="sv" x1="0" x2="0" y1="0" y2="1"><stop offset="0" stop-color="#fff" stop-opacity="0.15"/><stop offset="1" stop-color="#fff" stop-opacity="0.8"/></linearGradient></defs>
<rect x="325" y="1067.5" width="38" height="3" fill="url(#sh)" opacity="0.5"/><rect x="370" y="1067.5" width="38" height="3.5" fill="url(#sh)"/>
<rect x="325" y="1343.5" width="38" height="3" fill="url(#sh)" opacity="0.5"/><rect x="370" y="1343.5" width="38" height="3.5" fill="url(#sh)"/>
<rect x="537.00" y="653.00" width="111.00" height="66.50" fill="none" stroke="#ffffff" stroke-width="2.7" transform="rotate(0.75 592.50 686.25)"/>
<rect x="577.00" y="608.25" width="38.00" height="37.25" fill="none" stroke="#ffffff" stroke-width="2.5"/>
<line x1="577.00" y1="613.75" x2="615.00" y2="613.75" stroke="#ffffff" stroke-width="2.5" />
<rect x="577.00" y="727.50" width="38.00" height="37.00" fill="none" stroke="#ffffff" stroke-width="2.5"/>
<line x1="577.00" y1="759.00" x2="615.00" y2="759.00" stroke="#ffffff" stroke-width="2.5" />
<rect x="717.00" y="653.00" width="111.25" height="66.50" fill="none" stroke="#ffffff" stroke-width="2.7" transform="rotate(0.75 772.62 686.25)"/>
<rect x="757.00" y="608.25" width="37.50" height="37.25" fill="none" stroke="#ffffff" stroke-width="2.5"/>
<line x1="757.00" y1="613.75" x2="794.50" y2="613.75" stroke="#ffffff" stroke-width="2.5" />
<rect x="757.00" y="727.50" width="37.50" height="37.00" fill="none" stroke="#ffffff" stroke-width="2.5"/>
<line x1="757.00" y1="759.00" x2="794.50" y2="759.00" stroke="#ffffff" stroke-width="2.5" />
<rect x="717.00" y="818.75" width="111.25" height="66.25" fill="none" stroke="#ffffff" stroke-width="2.7" transform="rotate(0.75 772.62 851.88)"/>
<rect x="757.00" y="774.25" width="37.50" height="37.00" fill="none" stroke="#ffffff" stroke-width="2.5"/>
<line x1="757.00" y1="779.75" x2="794.50" y2="779.75" stroke="#ffffff" stroke-width="2.5" />
<rect x="757.00" y="892.50" width="37.50" height="38.00" fill="none" stroke="#ffffff" stroke-width="2.5"/>
<line x1="757.00" y1="925.00" x2="794.50" y2="925.00" stroke="#ffffff" stroke-width="2.5" />
<rect x="717.00" y="995.00" width="111.25" height="66.25" fill="none" stroke="#ffffff" stroke-width="2.7" transform="rotate(0.75 772.62 1028.12)"/>
<rect x="757.00" y="950.75" width="37.50" height="36.75" fill="none" stroke="#ffffff" stroke-width="2.5"/>
<line x1="757.00" y1="956.25" x2="794.50" y2="956.25" stroke="#ffffff" stroke-width="2.5" />
<rect x="757.00" y="1069.25" width="37.50" height="37.50" fill="none" stroke="#ffffff" stroke-width="2.5"/>
<line x1="757.00" y1="1101.25" x2="794.50" y2="1101.25" stroke="#ffffff" stroke-width="2.5" />
<rect x="1030.75" y="427.00" width="65.75" height="65.50" fill="none" stroke="#ffffff" stroke-width="2.7" transform="rotate(0.75 1063.62 459.75)"/>
<rect x="985.25" y="441.00" width="38.00" height="37.00" fill="none" stroke="#ffffff" stroke-width="2.5"/>
<line x1="991.50" y1="441.00" x2="991.50" y2="478.00" stroke="#ffffff" stroke-width="2.5" />
<rect x="1104.50" y="441.00" width="37.00" height="37.00" fill="none" stroke="#ffffff" stroke-width="2.5"/>
<line x1="1135.75" y1="441.00" x2="1135.75" y2="478.00" stroke="#ffffff" stroke-width="2.5" />
<rect x="1030.75" y="558.75" width="65.75" height="65.00" fill="none" stroke="#ffffff" stroke-width="2.7" transform="rotate(0.75 1063.62 591.25)"/>
<rect x="985.25" y="572.00" width="38.00" height="37.00" fill="none" stroke="#ffffff" stroke-width="2.5"/>
<line x1="991.50" y1="572.00" x2="991.50" y2="609.00" stroke="#ffffff" stroke-width="2.5" />
<rect x="1104.50" y="572.00" width="37.00" height="37.00" fill="none" stroke="#ffffff" stroke-width="2.5"/>
<line x1="1135.75" y1="572.00" x2="1135.75" y2="609.00" stroke="#ffffff" stroke-width="2.5" />
<rect x="1386.75" y="428.75" width="66.25" height="65.00" fill="none" stroke="#ffffff" stroke-width="2.7" transform="rotate(0.75 1419.88 461.25)"/>
<rect x="1341.00" y="442.50" width="38.75" height="36.75" fill="none" stroke="#ffffff" stroke-width="2.5"/>
<line x1="1347.00" y1="442.50" x2="1347.00" y2="479.25" stroke="#ffffff" stroke-width="2.5" />
<rect x="1461.00" y="442.50" width="37.75" height="36.75" fill="none" stroke="#ffffff" stroke-width="2.5"/>
<line x1="1493.00" y1="442.50" x2="1493.00" y2="479.25" stroke="#ffffff" stroke-width="2.5" />
<rect x="1385.50" y="558.75" width="66.25" height="65.00" fill="none" stroke="#ffffff" stroke-width="2.7" transform="rotate(0.75 1418.62 591.25)"/>
<rect x="1339.75" y="572.50" width="38.75" height="36.25" fill="none" stroke="#ffffff" stroke-width="2.5"/>
<line x1="1345.75" y1="572.50" x2="1345.75" y2="608.75" stroke="#ffffff" stroke-width="2.5" />
<rect x="1459.75" y="572.50" width="37.75" height="36.25" fill="none" stroke="#ffffff" stroke-width="2.5"/>
<line x1="1491.75" y1="572.50" x2="1491.75" y2="608.75" stroke="#ffffff" stroke-width="2.5" />
<rect x="977.00" y="807.50" width="65.50" height="111.25" fill="none" stroke="#ffffff" stroke-width="2.7" transform="rotate(0.75 1009.75 863.12)"/>
<rect x="931.25" y="822.50" width="37.50" height="37.50" fill="none" stroke="#ffffff" stroke-width="2.5"/>
<line x1="936.25" y1="822.50" x2="936.25" y2="860.00" stroke="#ffffff" stroke-width="2.5" />
<rect x="926" y="822.5" width="5" height="37.5" fill="url(#sv)" opacity="0.6"/>
<rect x="931.25" y="867.50" width="37.50" height="37.50" fill="none" stroke="#ffffff" stroke-width="2.5"/>
<line x1="936.25" y1="867.50" x2="936.25" y2="905.00" stroke="#ffffff" stroke-width="2.5" />
<rect x="926" y="867.5" width="5" height="37.5" fill="url(#sv)" opacity="0.6"/>
<path d="M1085.00,823.75 H1050.00 V860.00 H1085.00" fill="none" stroke="#ffffff" stroke-width="2.5" />
<line x1="1081.25" y1="823.75" x2="1081.25" y2="860.00" stroke="#ffffff" stroke-width="2.5" />
<path d="M1085.00,868.75 H1050.00 V905.75 H1085.00" fill="none" stroke="#ffffff" stroke-width="2.5" />
<line x1="1081.25" y1="868.75" x2="1081.25" y2="905.75" stroke="#ffffff" stroke-width="2.5" />
<rect x="1056.25" y="1167.50" width="66.25" height="156.25" fill="none" stroke="#ffffff" stroke-width="2.7" transform="rotate(0.75 1089.38 1245.62)"/>
<rect x="1010.75" y="1182.00" width="37.50" height="38.00" fill="none" stroke="#ffffff" stroke-width="2.5"/>
<line x1="1017.00" y1="1182.00" x2="1017.00" y2="1220.00" stroke="#ffffff" stroke-width="2.5" />
<rect x="1006.5" y="1182" width="4" height="38" fill="#fff" opacity="0.25"/>
<rect x="1010.75" y="1227.00" width="37.50" height="37.50" fill="none" stroke="#ffffff" stroke-width="2.5"/>
<line x1="1017.00" y1="1227.00" x2="1017.00" y2="1264.50" stroke="#ffffff" stroke-width="2.5" />
<rect x="1006.5" y="1227" width="4" height="37.5" fill="#fff" opacity="0.25"/>
<rect x="1010.75" y="1271.75" width="37.50" height="37.50" fill="none" stroke="#ffffff" stroke-width="2.5"/>
<line x1="1017.00" y1="1271.75" x2="1017.00" y2="1309.25" stroke="#ffffff" stroke-width="2.5" />
<rect x="1006.5" y="1271.75" width="4" height="37.5" fill="#fff" opacity="0.25"/>
<path d="M1165.75,1183.25 H1129.50 V1220.75 H1165.75" fill="none" stroke="#ffffff" stroke-width="2.5" />
<line x1="1161.25" y1="1183.25" x2="1161.25" y2="1220.75" stroke="#ffffff" stroke-width="2.5" />
<path d="M1165.75,1228.25 H1129.50 V1265.00 H1165.75" fill="none" stroke="#ffffff" stroke-width="2.5" />
<line x1="1161.25" y1="1228.25" x2="1161.25" y2="1265.00" stroke="#ffffff" stroke-width="2.5" />
<path d="M1165.75,1272.50 H1129.50 V1310.00 H1165.75" fill="none" stroke="#ffffff" stroke-width="2.5" />
<line x1="1161.25" y1="1272.50" x2="1161.25" y2="1310.00" stroke="#ffffff" stroke-width="2.5" />
<rect x="1366.50" y="1069.25" width="66.25" height="111.25" fill="none" stroke="#ffffff" stroke-width="2.7" transform="rotate(0.75 1399.62 1124.88)"/>
<rect x="1321.00" y="1109.25" width="37.50" height="37.00" fill="none" stroke="#ffffff" stroke-width="2.5"/>
<line x1="1326.50" y1="1109.25" x2="1326.50" y2="1146.25" stroke="#ffffff" stroke-width="2.5" />
<rect x="1439.75" y="1110.00" width="37.50" height="37.50" fill="none" stroke="#ffffff" stroke-width="2.5"/>
<line x1="1471.50" y1="1110.00" x2="1471.50" y2="1147.50" stroke="#ffffff" stroke-width="2.5" />
<rect x="1362.25" y="1225.00" width="65.50" height="111.25" fill="none" stroke="#ffffff" stroke-width="2.7" transform="rotate(0.75 1395.00 1280.62)"/>
<rect x="1316.50" y="1239.50" width="37.50" height="37.50" fill="none" stroke="#ffffff" stroke-width="2.5"/>
<line x1="1321.50" y1="1239.50" x2="1321.50" y2="1277.00" stroke="#ffffff" stroke-width="2.5" />
<rect x="1311.5" y="1239.5" width="5" height="37.5" fill="url(#sv)" opacity="0.6"/>
<rect x="1316.50" y="1284.25" width="37.50" height="37.50" fill="none" stroke="#ffffff" stroke-width="2.5"/>
<line x1="1321.50" y1="1284.25" x2="1321.50" y2="1321.75" stroke="#ffffff" stroke-width="2.5" />
<rect x="1311.5" y="1284.25" width="5" height="37.5" fill="url(#sv)" opacity="0.6"/>
<path d="M1470.25,1240.50 H1435.25 V1277.50 H1470.25" fill="none" stroke="#ffffff" stroke-width="2.5" />
<line x1="1467.25" y1="1240.50" x2="1467.25" y2="1277.50" stroke="#ffffff" stroke-width="2.5" />
<path d="M1470.25,1285.00 H1435.25 V1322.50 H1470.25" fill="none" stroke="#ffffff" stroke-width="2.5" />
<line x1="1467.25" y1="1285.00" x2="1467.25" y2="1322.50" stroke="#ffffff" stroke-width="2.5" />
<rect x="1985.00" y="675.00" width="66.25" height="66.25" fill="none" stroke="#ffffff" stroke-width="2.7" transform="rotate(0.75 2018.12 708.12)"/>
<rect x="1939.25" y="689.00" width="38.25" height="37.50" fill="none" stroke="#ffffff" stroke-width="2.5"/>
<line x1="1946.25" y1="689.00" x2="1946.25" y2="726.50" stroke="#ffffff" stroke-width="2.5" />
<rect x="2058.75" y="689.50" width="38.00" height="37.50" fill="none" stroke="#ffffff" stroke-width="2.5"/>
<line x1="2090.00" y1="689.50" x2="2090.00" y2="727.00" stroke="#ffffff" stroke-width="2.5" />
<rect x="1985.00" y="773.00" width="66.25" height="66.50" fill="none" stroke="#ffffff" stroke-width="2.7" transform="rotate(0.75 2018.12 806.25)"/>
<rect x="1939.25" y="787.00" width="38.25" height="37.25" fill="none" stroke="#ffffff" stroke-width="2.5"/>
<line x1="1946.25" y1="787.00" x2="1946.25" y2="824.25" stroke="#ffffff" stroke-width="2.5" />
<rect x="2058.75" y="787.50" width="38.00" height="37.25" fill="none" stroke="#ffffff" stroke-width="2.5"/>
<line x1="2090.00" y1="787.50" x2="2090.00" y2="824.75" stroke="#ffffff" stroke-width="2.5" />
<rect x="2181.25" y="673.00" width="111.25" height="66.50" fill="none" stroke="#ffffff" stroke-width="2.7" transform="rotate(0.75 2236.88 706.25)"/>
<rect x="2196.25" y="628.25" width="38.00" height="37.50" fill="none" stroke="#ffffff" stroke-width="2.5"/>
<line x1="2196.25" y1="633.75" x2="2234.25" y2="633.75" stroke="#ffffff" stroke-width="2.5" />
<rect x="2241.25" y="628.95" width="38.00" height="37.50" fill="none" stroke="#ffffff" stroke-width="2.5"/>
<line x1="2241.25" y1="634.45" x2="2279.25" y2="634.45" stroke="#ffffff" stroke-width="2.5" />
<rect x="2195.00" y="747.50" width="38.00" height="37.00" fill="none" stroke="#ffffff" stroke-width="2.5"/>
<line x1="2195.00" y1="778.75" x2="2233.00" y2="778.75" stroke="#ffffff" stroke-width="2.5" />
<rect x="2240.00" y="748.20" width="38.00" height="37.00" fill="none" stroke="#ffffff" stroke-width="2.5"/>
<line x1="2240.00" y1="779.45" x2="2278.00" y2="779.45" stroke="#ffffff" stroke-width="2.5" />
<rect x="2180.00" y="853.00" width="111.25" height="66.50" fill="none" stroke="#ffffff" stroke-width="2.7" transform="rotate(0.75 2235.62 886.25)"/>
<rect x="2195.00" y="808.25" width="38.00" height="37.25" fill="none" stroke="#ffffff" stroke-width="2.5"/>
<line x1="2195.00" y1="813.75" x2="2233.00" y2="813.75" stroke="#ffffff" stroke-width="2.5" />
<rect x="2240.00" y="808.95" width="38.00" height="37.25" fill="none" stroke="#ffffff" stroke-width="2.5"/>
<line x1="2240.00" y1="814.45" x2="2278.00" y2="814.45" stroke="#ffffff" stroke-width="2.5" />
<rect x="2193.75" y="927.50" width="38.00" height="37.50" fill="none" stroke="#ffffff" stroke-width="2.5"/>
<line x1="2193.75" y1="959.25" x2="2231.75" y2="959.25" stroke="#ffffff" stroke-width="2.5" />
<rect x="2238.75" y="928.20" width="38.00" height="37.50" fill="none" stroke="#ffffff" stroke-width="2.5"/>
<line x1="2238.75" y1="959.95" x2="2276.75" y2="959.95" stroke="#ffffff" stroke-width="2.5" />
<text transform="translate(950.5,1509) rotate(-90)" font-size="32" fill="#ffffff" text-anchor="middle" textLength="27" lengthAdjust="spacingAndGlyphs">1565</text>
<text transform="translate(950,1612) rotate(-90)" font-size="32" fill="#ffffff" text-anchor="middle" textLength="20.5" lengthAdjust="spacingAndGlyphs">885</text>
<text transform="translate(950,1668.7) rotate(-90)" font-size="32" fill="#ffffff" text-anchor="middle" textLength="14" lengthAdjust="spacingAndGlyphs">49</text>
<text transform="translate(1428.7,1706.4) rotate(-90)" font-size="32" fill="#ffffff" text-anchor="middle" textLength="15.7" lengthAdjust="spacingAndGlyphs">43</text>
<circle cx="960.75" cy="1448.75" r="3.5" fill="#ffffff" stroke="#ffffff" stroke-width="1"/>
<line x1="960.75" y1="1436.00" x2="960.75" y2="1448.00" stroke="#ffffff" stroke-width="1.3" />
<circle cx="960.75" cy="1688.75" r="3.6" fill="none" stroke="#ffffff" stroke-width="1.3"/>
<line x1="948.00" y1="1688.75" x2="973.00" y2="1688.75" stroke="#ffffff" stroke-width="1.3" />
<line x1="960.75" y1="1664.00" x2="960.75" y2="1702.00" stroke="#ffffff" stroke-width="1.3" />
<line x1="953.00" y1="1664.00" x2="968.00" y2="1664.00" stroke="#ffffff" stroke-width="1.3" />
<line x1="1435.25" y1="1395.00" x2="1435.25" y2="1452.00" stroke="#ffffff" stroke-width="1.3" />
<circle cx="1435.25" cy="1407.50" r="3.6" fill="none" stroke="#ffffff" stroke-width="1.3"/>
<line x1="1423.00" y1="1407.50" x2="1447.00" y2="1407.50" stroke="#ffffff" stroke-width="1.3" />
<line x1="1353.50" y1="1395.00" x2="1353.50" y2="1406.00" stroke="#ffffff" stroke-width="1.3" />
<circle cx="1353.50" cy="1406.50" r="2.5" fill="#ffffff" stroke="#ffffff" stroke-width="1"/>
<line x1="1435.25" y1="1687.50" x2="1435.25" y2="1737.50" stroke="#ffffff" stroke-width="1.3" />
<circle cx="1435.25" cy="1723.75" r="3.5" fill="#ffffff" stroke="#ffffff" stroke-width="1"/>
<circle cx="1353.50" cy="1689.50" r="3.6" fill="none" stroke="#ffffff" stroke-width="1.3"/>
<line x1="1341.00" y1="1689.50" x2="1366.00" y2="1689.50" stroke="#ffffff" stroke-width="1.3" />
<line x1="1353.50" y1="1689.50" x2="1353.50" y2="1702.00" stroke="#ffffff" stroke-width="1.3" />
<circle cx="1519.00" cy="1605.50" r="3.5" fill="#ffffff" stroke="#ffffff" stroke-width="1"/>
<line x1="1519.00" y1="1605.50" x2="1531.00" y2="1605.50" stroke="#ffffff" stroke-width="1.3" />
<text x="218.8" y="132.6" font-size="76.3" fill="#b0863f" stroke="#b0863f" stroke-width="0.7" textLength="761" lengthAdjust="spacingAndGlyphs">BESTUHLUNGSPLAN 3</text>
<text x="215.8" y="201.6" font-size="55" fill="#b0863f" stroke="#383a39" stroke-width="0.9" textLength="272" lengthAdjust="spacingAndGlyphs">A la Carte</text>
<text x="1936.5" y="1538.75" font-size="23.4" fill="#8a8c8b" textLength="408" lengthAdjust="spacingAndGlyphs">WWW.KRAFTWERKRESTAURANT.DE</text>
<rect x="2133.3" y="79" width="216.4" height="333.2" fill="none" stroke="#e8e8ea" stroke-width="3.2"/>
<path d="M2158.1,104.4 V240.6 M2185.2,104.4 L2159.6,169.5 M2161.3,166 L2186.3,240.6" fill="none" stroke="#e8e8ea" stroke-width="3.5" stroke-linejoin="bevel"/>
<path d="M2199.7,104.4 V240.6 M2199.7,106 H2214 Q2224.9,106 2224.9,120 V153 Q2224.9,167.1 2212,167.1 H2199.7 M2212,167.1 Q2224.9,168 2224.9,184 V240.6" fill="none" stroke="#e8e8ea" stroke-width="3.5" stroke-linejoin="bevel"/>
<path d="M2236.7,240.6 L2251.2,104.4 L2266.2,240.6 M2241,202 H2262" fill="none" stroke="#e8e8ea" stroke-width="3.5" stroke-linejoin="bevel"/>
<path d="M2279.3,240.6 V104.6 M2277.8,106.2 H2304.2 M2279.3,170.1 H2299.2" fill="none" stroke="#e8e8ea" stroke-width="3.5" stroke-linejoin="bevel"/>
<path d="M2307.5,106.2 H2335.3 M2321.6,106.2 V240.6" fill="none" stroke="#e8e8ea" stroke-width="3.5" stroke-linejoin="bevel"/>
<path d="M2158,250.4 L2170,385.9 L2182.7,252 L2195.8,385.9 L2208.4,250.4" fill="none" stroke="#e8e8ea" stroke-width="3.5" stroke-linejoin="bevel"/>
<rect x="2219.4" y="251.5" width="24.1" height="35.1" fill="#dc2352"/><rect x="2219.4" y="299.2" width="24.1" height="34.6" fill="#ffffff"/><rect x="2219.4" y="350.2" width="24.1" height="36.2" fill="#dc2352"/>
<path d="M2254,250.6 V385.9 M2254,252.2 H2267 Q2278.1,252.2 2278.1,266 V298 Q2278.1,311.9 2266,311.9 H2254 M2266,311.9 Q2278.6,313 2278.6,329 V385.9" fill="none" stroke="#e8e8ea" stroke-width="3.5" stroke-linejoin="bevel"/>
<path d="M2294.2,250.6 V385.9 M2321.4,250.4 L2295.6,315.7 M2297.4,312 L2322.5,385.9" fill="none" stroke="#e8e8ea" stroke-width="3.5" stroke-linejoin="bevel"/>
</svg>
</body></html>
